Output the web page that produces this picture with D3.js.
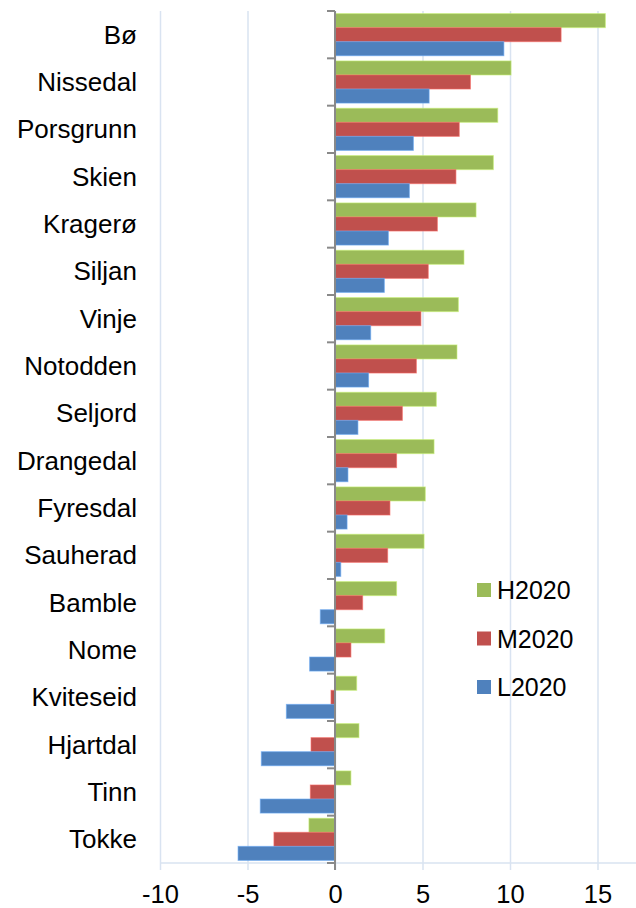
<!DOCTYPE html>
<html lang="en">
<head>
<meta charset="UTF-8">
<title>Telemark 2020</title>
<script src="https://d3js.org/d3.v7.min.js"></script>
<style>
    body { margin: 0; background: #fff; }
    text { font-family: "Liberation Sans", Arial, sans-serif; fill: #000; }
</style>
</head>
<body>
<script>
    const municipalities = ["Bø", "Nissedal", "Porsgrunn", "Skien", "Kragerø", "Siljan", "Vinje",
        "Notodden", "Seljord", "Drangedal", "Fyresdal", "Sauherad", "Bamble", "Nome",
        "Kviteseid", "Hjartdal", "Tinn", "Tokke"];
    const seriesNames = ["H2020", "M2020", "L2020"];
    const h2020 = [15.45, 10.06, 9.3, 9.05, 8.06, 7.37, 7.05, 6.97, 5.79, 5.66, 5.16, 5.09, 3.52, 2.84, 1.24, 1.37, 0.91, -1.49];
    const m2020 = [12.92, 7.74, 7.1, 6.91, 5.85, 5.33, 4.91, 4.65, 3.85, 3.52, 3.14, 3.01, 1.58, 0.91, -0.23, -1.37, -1.41, -3.49];
    const l2020 = [9.65, 5.38, 4.48, 4.25, 3.05, 2.82, 2.04, 1.92, 1.31, 0.74, 0.69, 0.33, -0.84, -1.45, -2.78, -4.21, -4.27, -5.54];
    const xTicks = [-10, -5, 0, 5, 10, 15];
    const colors = ["#9BBB59", "#C0504D", "#4F81BD"];

    const width = 636;
    const height = 908;
    const plotTop = 11, plotBottom = 863;

    const svg = d3.select("body").append("svg")
        .attr("width", width)
        .attr("height", height);

    const x = d3.scaleLinear().domain([-10, 20]).range([160, 685]);
    const y = d3.scaleBand().domain(municipalities).range([plotTop, plotBottom]).padding(0);
    const ySub = d3.scaleBand().domain(seriesNames).range([2.6, y.bandwidth() - 2.6]).padding(0);

    const rows = municipalities.map((m, i) => ({
        name: m,
        values: [h2020[i], m2020[i], l2020[i]].map((v, j) => ({ key: seriesNames[j], v: v, c: colors[j] }))
    }));

    // Gridlines + x axis (plain hyphen for negatives, like the original)
    const xAxis = d3.axisBottom(x)
        .tickValues(xTicks)
        .tickFormat(d => String(d))
        .tickSize(-(plotBottom - plotTop) - 7)
        .tickPadding(15);
    const gx = svg.append("g")
        .attr("transform", "translate(0," + (plotBottom + 7) + ")")
        .call(xAxis);
    gx.select(".domain").remove();
    gx.selectAll("line").attr("stroke", "#d9e3f1").attr("stroke-width", 1.5);
    gx.selectAll("text").attr("font-size", "25.5px").attr("fill", "#000");

    svg.append("line")
        .attr("x1", x(-10)).attr("x2", width)
        .attr("y1", plotBottom).attr("y2", plotBottom)
        .attr("stroke", "#d9e3f1").attr("stroke-width", 1.5);

    // Bars
    const groups = svg.selectAll(".row")
        .data(rows)
        .enter().append("g")
        .attr("class", "row")
        .attr("transform", d => "translate(0," + y(d.name) + ")");

    groups.selectAll("rect")
        .data(d => d.values)
        .enter().append("rect")
        .attr("x", d => x(Math.min(0, d.v)))
        .attr("y", d => ySub(d.key))
        .attr("width", d => Math.abs(x(d.v) - x(0)))
        .attr("height", ySub.bandwidth())
        .attr("fill", d => d.c)
        .attr("stroke", d => d3.color(d.c).brighter(0.7))
        .attr("stroke-opacity", 0.6)
        .attr("stroke-width", 1);

    // Category labels
    svg.selectAll(".cat")
        .data(municipalities)
        .enter().append("text")
        .attr("class", "cat")
        .attr("x", 137)
        .attr("y", d => y(d) + y.bandwidth() / 2)
        .attr("dy", "0.35em")
        .attr("text-anchor", "end")
        .attr("font-size", "26px")
        .text(d => d);

    // Zero axis with category ticks
    const boundaries = municipalities.map(d => y(d)).concat([plotBottom]);
    svg.selectAll(".ctick")
        .data(boundaries)
        .enter().append("line")
        .attr("x1", x(0) - 8).attr("x2", x(0))
        .attr("y1", d => d).attr("y2", d => d)
        .attr("stroke", "#898989").attr("stroke-width", 2);

    svg.append("line")
        .attr("x1", x(0)).attr("x2", x(0))
        .attr("y1", plotTop).attr("y2", plotBottom + 7)
        .attr("stroke", "#898989").attr("stroke-width", 2);

    // Legend
    const legend = svg.selectAll(".leg")
        .data(seriesNames)
        .enter().append("g")
        .attr("class", "leg")
        .attr("transform", (d, i) => "translate(477," + (590 + i * 48.5) + ")");
    legend.append("rect")
        .attr("x", 0).attr("y", -7)
        .attr("width", 14).attr("height", 14)
        .attr("fill", (d, i) => colors[i]);
    legend.append("text")
        .attr("x", 20)
        .attr("y", 0)
        .attr("dy", "0.36em")
        .attr("font-size", "25px")
        .text(d => d);
</script>
</body>
</html>
